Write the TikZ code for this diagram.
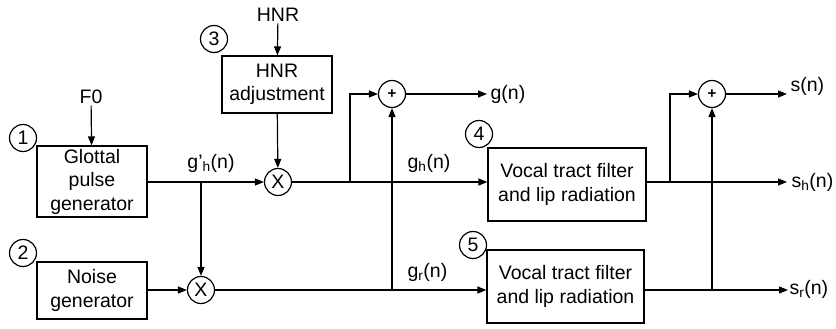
\documentclass[tikz,border=0pt]{standalone}
\usepackage{fontspec}
\setmainfont{Liberation Sans}
\usetikzlibrary{arrows.meta}

\begin{document}
\begin{tikzpicture}[x=1pt, y=-1pt, line width=1.2pt,
		>={Triangle[length=9pt,width=7pt]},
		block/.style={draw, align=center, inner sep=0pt, font=\fontsize{19.5}{23.5}\selectfont},
		num/.style={draw, circle, minimum size=27pt, inner sep=0pt, font=\fontsize{19.5}{20}\selectfont},
		mult/.style={draw, circle, minimum size=27pt, inner sep=0pt, font=\fontsize{19.5}{20}\selectfont},
		plus/.style={draw, circle, minimum size=27pt, inner sep=0pt, font=\fontsize{15}{15}\selectfont\bfseries},
		lbl/.style={font=\fontsize{19.5}{20}\selectfont, inner sep=1pt}]
		\useasboundingbox (0,0) rectangle (836,329);
		
		% Blocks
		\node[block, minimum width=110pt, minimum height=71pt] (glottal) at (92,181.5) {Glottal\\pulse\\generator};
		\node[block, minimum width=110pt, minimum height=57pt] (noise) at (92,290.5) {Noise\\generator};
		\node[block, minimum width=110pt, minimum height=57pt] (hnradj) at (277,84.5) {HNR\\adjustment};
		\node[block, minimum width=158pt, minimum height=73pt] (vt4) at (567,184.5) {Vocal tract filter\\and lip radiation};
		\node[block, minimum width=157pt, minimum height=73pt] (vt5) at (565.5,286.5) {Vocal tract filter\\and lip radiation};
		
		% Numbers
		\node[num] (n1) at (23,138) {1};
		\node[num] (n2) at (23,253) {2};
		\node[num] (n3) at (214,39) {3};
		\node[num] (n4) at (479,134) {4};
		\node[num] (n5) at (473,245) {5};
		
		% Multipliers and adders
		\node[mult] (x1) at (278,182) {X};
		\node[mult] (x2) at (201,290) {X};
		\node[plus] (p1) at (392,94) {+};
		\node[plus] (p2) at (712,94) {+};
		
		% Inputs
		\node[lbl] (f0) at (91,97) {F0};
		\node[lbl] (hnr) at (278,15) {HNR};
		
		% Branch points and outputs
		\coordinate (bh) at (201,182);
		\coordinate (bg) at (350,182);
		\coordinate (bs) at (670,182);
		\coordinate (jr) at (392,290);
		\coordinate (js) at (712,290);
		\coordinate (gout) at (487,94);
		\coordinate (sout) at (787,94);
		\coordinate (shout) at (787,182);
		\coordinate (srout) at (788,290);
		
		% Signal labels
		\node[lbl] (ghp) at (211,163) {g’\textsubscript{h}(n)};
		\node[lbl, anchor=west] (gh) at (406,163) {g\textsubscript{h}(n)};
		\node[lbl, anchor=west] (gr) at (406,272) {g\textsubscript{r}(n)};
		\node[lbl, anchor=west] (gn) at (489,94) {g(n)};
		\node[lbl, anchor=west] (sn) at (789,86) {s(n)};
		\node[lbl, anchor=west] (sh) at (790,182) {s\textsubscript{h}(n)};
		\node[lbl, anchor=west] (sr) at (788,289) {s\textsubscript{r}(n)};
		
		% Connectors
		\draw[->] (f0) -- (glottal);
		\draw[->] (hnr) -- (hnradj);
		\draw[->] (hnradj) -- (x1);
		\draw[->] (glottal.east |- x1) -- (x1);
		\draw[->] (bh) -- (x2);
		\draw[->] (noise.east |- x2) -- (x2);
		\draw[->] (x1) -- (x1 -| vt4.west);
		\draw[->] (x2) -- (x2 -| vt5.west);
		\draw[->] (bg) |- (p1);
		\draw[->] (jr) -- (p1);
		\draw[->] (p1) -- (gout);
		\draw[->] (vt4.east |- shout) -- (shout);
		\draw[->] (vt5.east |- srout) -- (srout);
		\draw[->] (bs) |- (p2);
		\draw[->] (js) -- (p2);
		\draw[->] (p2) -- (sout);
	\end{tikzpicture}
\end{document}
